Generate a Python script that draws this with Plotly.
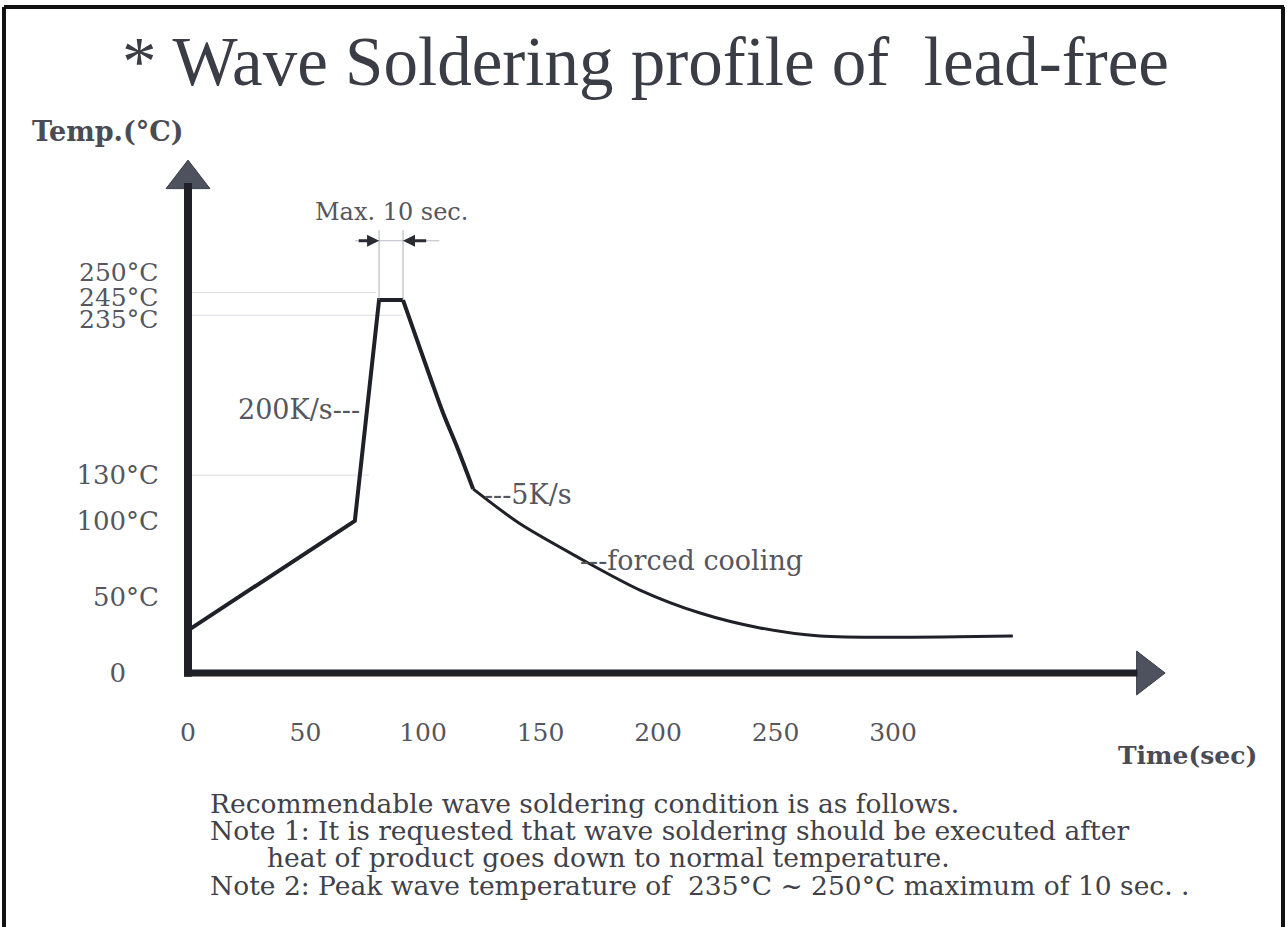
import plotly.graph_objects as go

# ---------------- data ----------------
ramp_time = [0, 71, 81.3, 91.5]
ramp_temp = [28, 100, 245, 245]

peak_decay_time = [91.5, 97.4, 103, 108.5, 114.5, 121.3]
peak_decay_temp = [245, 219, 194.5, 171, 148.5, 121]

cooling_time = [121.3, 141.3, 166, 192.3, 217.9, 243.4, 268.9, 351]
cooling_temp = [121, 98, 76, 54.5, 39.4, 29.6, 24.3, 24.3]

x_tick_vals = [0, 50, 100, 150, 200, 250, 300]
x_tick_text = ["0", "50", "100", "150", "200", "250", "300"]
y_tick_vals = [0, 50, 100, 130]
y_tick_text = ["0\u00a0\u00a0\u00a0\u00a0", "50°C", "100°C", "130°C"]
peak_label_vals = [250, 245, 235]
peak_label_text = ["250°C", "245°C", "235°C"]

title_text = "* Wave Soldering profile of\u00a0\u00a0lead-free"
notes = [
    "Recommendable wave soldering condition is as follows.",
    "Note 1: It is requested that wave soldering should be executed after",
    "heat of product goes down to normal temperature.",
    "Note 2: Peak wave temperature of\u00a0\u00a0235°C ~ 250°C maximum of 10 sec. .",
]

# ---------------- layout geometry (reference-pixel coordinates) ----------------
W, H = 1287, 927
PL, PR, PT, PB = 170, 1188, 150, 697   # plot area in reference pixels
X0_PX, Y0_PX = 188, 673                # pixel of t=0 / T=0
XS, YS = 2.35, 1.522                   # px per second / px per degree
pw, ph = PR - PL, PB - PT
x_lo = -(X0_PX - PL) / XS
x_hi = x_lo + pw / XS
y_lo = -(PB - Y0_PX) / YS
y_hi = y_lo + ph / YS
ML, MT, MR, MB = PL, PT, W - PR, H - PB


def px(xp):
    return (xp - PL) / pw


def py(yp):
    return (PB - yp) / ph


TIMES = "Liberation Serif, Times New Roman, serif"
SERIF = "DejaVu Serif, serif"
TXT = "#55565e"
INK = "#1f2028"

fig = go.Figure()

# faint guide lines
for val, t_end in [(250, 80.0), (235, 91.5), (130, 77.0)]:
    fig.add_shape(type="line", xref="x", yref="y", x0=1, x1=t_end, y0=val, y1=val,
                  line=dict(color="rgba(170,170,190,0.4)", width=1), layer="below")

# Max 10 sec vertical markers
for tv in [ramp_time[2], ramp_time[3]]:
    fig.add_shape(type="line", xref="x", yref="y", x0=tv, x1=tv, y0=245, y1=291,
                  line=dict(color="rgba(140,140,160,0.7)", width=1))
fig.add_shape(type="line", xref="x", yref="y", x0=71, x1=107, y0=284, y1=284,
              line=dict(color="rgba(140,140,160,0.6)", width=1))

# profile
fig.add_trace(go.Scatter(x=ramp_time, y=ramp_temp, mode="lines",
                         line=dict(color=INK, width=4), hoverinfo="skip", showlegend=False))
fig.add_trace(go.Scatter(x=peak_decay_time, y=peak_decay_temp, mode="lines",
                         line=dict(color=INK, width=4, shape="spline", smoothing=1.0),
                         hoverinfo="skip", showlegend=False))
fig.add_trace(go.Scatter(x=cooling_time, y=cooling_temp, mode="lines",
                         line=dict(color=INK, width=3, shape="spline", smoothing=0.8),
                         hoverinfo="skip", showlegend=False))

# axes drawn as thick lines with arrowheads
fig.add_shape(type="line", xref="x", yref="y", x0=0, x1=0, y0=-2.5, y1=322,
              line=dict(color=INK, width=8))
fig.add_shape(type="line", xref="x", yref="y", x0=-1.5, x1=404, y0=0, y1=0,
              line=dict(color=INK, width=7))
fig.add_trace(go.Scatter(x=[0], y=[324.5], mode="markers", cliponaxis=False,
                         marker=dict(symbol="triangle-up", size=38, color="#4d525e",
                                     line=dict(color="#3a3e48", width=1)),
                         hoverinfo="skip", showlegend=False))
fig.add_trace(go.Scatter(x=[407.7], y=[0], mode="markers", cliponaxis=False,
                         marker=dict(symbol="triangle-right", size=38, color="#4d525e",
                                     line=dict(color="#3a3e48", width=1)),
                         hoverinfo="skip", showlegend=False))

annotations = []
# title
annotations.append(dict(text=title_text, xref="paper", yref="paper", x=px(645), y=py(62),
                        xanchor="center", yanchor="middle", showarrow=False,
                        font=dict(family=TIMES, size=69, color="#3a3d46")))
# axis titles
annotations.append(dict(text="<b>Temp.(°C)</b>", xref="paper", yref="paper", x=px(30), y=py(131),
                        xanchor="left", yanchor="middle", showarrow=False,
                        font=dict(family=SERIF, size=27, color="#4a4b53")))
annotations.append(dict(text="<b>Time(sec)</b>", xref="paper", yref="paper", x=px(1259), y=py(755),
                        xanchor="right", yanchor="middle", showarrow=False,
                        font=dict(family=SERIF, size=25, color="#4a4b53")))
# stacked peak labels
for val, txt, shift in zip(peak_label_vals, peak_label_text, [20, 3, -4]):
    annotations.append(dict(text=txt, xref="paper", yref="y", x=px(160), y=val, yshift=shift,
                            xanchor="right", yanchor="middle", showarrow=False,
                            font=dict(family=SERIF, size=25, color=TXT)))
# curve labels
annotations.append(dict(text="Max. 10 sec.", xref="x", yref="y", x=86.4, y=303,
                        xanchor="center", yanchor="middle", showarrow=False,
                        font=dict(family=SERIF, size=24, color=TXT)))
annotations.append(dict(text="200K/s---", xref="x", yref="y", x=74, y=173,
                        xanchor="right", yanchor="middle", showarrow=False,
                        font=dict(family=SERIF, size=27, color=TXT)))
annotations.append(dict(text="---5K/s", xref="x", yref="y", x=125, y=117,
                        xanchor="left", yanchor="middle", showarrow=False,
                        font=dict(family=SERIF, size=27, color=TXT)))
annotations.append(dict(text="---forced cooling", xref="x", yref="y", x=166, y=74,
                        xanchor="left", yanchor="middle", showarrow=False,
                        font=dict(family=SERIF, size=27, color=TXT)))
# max 10 sec arrows
annotations.append(dict(x=ramp_time[2], y=284, ax=72, ay=284, xref="x", yref="y",
                        axref="x", ayref="y", showarrow=True, arrowhead=2, arrowsize=0.8,
                        arrowwidth=3, arrowcolor="#2a2b33", text=""))
annotations.append(dict(x=ramp_time[3], y=284, ax=102, ay=284, xref="x", yref="y",
                        axref="x", ayref="y", showarrow=True, arrowhead=2, arrowsize=0.8,
                        arrowwidth=3, arrowcolor="#2a2b33", text=""))
# notes
for txt, (xp, yp) in zip(notes, [(208, 803), (208, 830), (265, 857), (208, 885)]):
    annotations.append(dict(text=txt, xref="paper", yref="paper", x=px(xp), y=py(yp),
                            xanchor="left", yanchor="middle", showarrow=False,
                            font=dict(family=SERIF, size=26.5, color="#404149")))

# page border
border = dict(color="#111111", width=4)
for x0, x1, y0, y1 in [(4, 4, 7, 935), (4, 1284, 7, 7), (1283, 1283, 7, 935)]:
    fig.add_shape(type="line", xref="paper", yref="paper", x0=px(x0), x1=px(x1),
                  y0=py(y0), y1=py(y1), line=border)

fig.update_layout(
    width=W, height=H,
    margin=dict(l=ML, r=MR, t=MT, b=MB, autoexpand=False),
    paper_bgcolor="white", plot_bgcolor="white",
    showlegend=False,
    annotations=annotations,
    xaxis=dict(range=[x_lo, x_hi], tickvals=x_tick_vals, ticktext=x_tick_text,
               showgrid=False, zeroline=False, showline=False, ticks="",
               ticklabelstandoff=18,
               tickfont=dict(family=SERIF, size=25, color=TXT), fixedrange=True),
    yaxis=dict(range=[y_lo, y_hi], tickvals=y_tick_vals, ticktext=y_tick_text,
               showgrid=False, zeroline=False, showline=False, ticks="",
               ticklabelstandoff=10,
               tickfont=dict(family=SERIF, size=26, color=TXT), fixedrange=True),
)

fig.write_html("out.html", config={"displayModeBar": False},
               post_script="document.body.style.margin='0';document.body.style.overflow='hidden';")
